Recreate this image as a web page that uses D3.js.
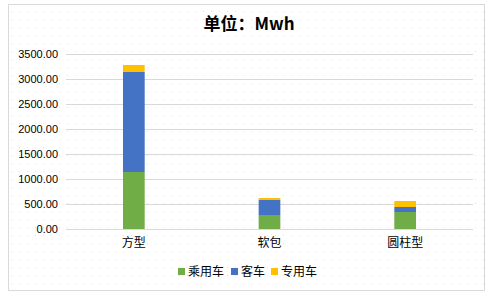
<!DOCTYPE html>
<html>
<head>
<meta charset="utf-8">
<script src="https://cdn.jsdelivr.net/npm/d3@7"></script>
<style>
  body { margin: 0; background: #fff; }
  svg { display: block; font-family: "Noto Sans CJK SC", "DejaVu Sans", sans-serif; }
</style>
</head>
<body>
<svg id="chart" width="491" height="292"></svg>
<script>
var categories = ["方型", "软包", "圆柱型"];
var seriesNames = ["乘用车", "客车", "专用车"];
var passenger = [1140, 280, 340];
var bus = [2000, 300, 100];
var special = [140, 40, 120];
var yTicks = [0, 500, 1000, 1500, 2000, 2500, 3000, 3500];

var colors = ["#70ad47", "#4472c4", "#ffc000"];

var svg = d3.select("#chart");
var margin = {left: 66, right: 18, top: 54, bottom: 63};
var width = 491, height = 292;

// background frame + faint dot pattern
var defs = svg.append("defs");
defs.append("pattern")
    .attr("id", "dots")
    .attr("width", 8).attr("height", 8)
    .attr("patternUnits", "userSpaceOnUse")
    .append("rect")
    .attr("x", 3).attr("y", 3).attr("width", 1).attr("height", 1)
    .attr("fill", "#e4e4dc");

svg.append("rect")
    .attr("x", 8.5).attr("y", 4.5)
    .attr("width", 476).attr("height", 286)
    .attr("fill", "url(#dots)")
    .attr("stroke", "#d9d9d9");

var x = d3.scaleBand()
    .domain(categories)
    .range([margin.left, width - margin.right])
    .paddingInner(0.84)
    .paddingOuter(0.42);

var y = d3.scaleLinear()
    .domain([0, 3500])
    .range([height - margin.bottom, margin.top]);

// gridlines
svg.append("g")
    .selectAll("line")
    .data(yTicks)
    .enter()
    .append("line")
    .attr("x1", margin.left)
    .attr("x2", width - margin.right)
    .attr("y1", function(d){ return Math.round(y(d)) + 0.5; })
    .attr("y2", function(d){ return Math.round(y(d)) + 0.5; })
    .attr("stroke", "#d9d9d9")
    .attr("stroke-width", 1);

// y axis labels
var yAxis = d3.axisLeft(y)
    .tickValues(yTicks)
    .tickSize(0)
    .tickPadding(8)
    .tickFormat(d3.format(".2f"));

var gy = svg.append("g")
    .attr("transform", "translate(" + margin.left + ",0)")
    .call(yAxis);
gy.select(".domain").remove();
gy.selectAll("text")
    .attr("fill", "#000")
    .attr("font-size", 11)
    .attr("font-family", "Liberation Sans, Arial, sans-serif");

// stacked bars
var table = categories.map(function(c, i){
    return {cat: c, "乘用车": passenger[i], "客车": bus[i], "专用车": special[i]};
});
var stack = d3.stack().keys(seriesNames)(table);

svg.append("g")
    .selectAll("g")
    .data(stack)
    .enter()
    .append("g")
    .attr("fill", function(d, i){ return colors[i]; })
    .selectAll("rect")
    .data(function(d){ return d; })
    .enter()
    .append("rect")
    .attr("x", function(d){ return x(d.data.cat); })
    .attr("width", x.bandwidth())
    .attr("y", function(d){ return y(d[1]); })
    .attr("height", function(d){ return y(d[0]) - y(d[1]); });

// x axis labels
var xAxis = d3.axisBottom(x).tickSize(0).tickPadding(9);
var gx = svg.append("g")
    .attr("transform", "translate(0," + (height - margin.bottom) + ")")
    .call(xAxis);
gx.select(".domain").remove();
gx.selectAll("text")
    .attr("fill", "#000")
    .attr("font-size", 12)
    .attr("font-family", "Noto Sans CJK SC, sans-serif");

// title
svg.append("text")
    .attr("x", 249)
    .attr("y", 30)
    .attr("text-anchor", "middle")
    .attr("font-size", 17)
    .attr("font-weight", "bold")
    .attr("fill", "#000")
    .text("单位：Mwh");

// legend
var legendX = [178, 231, 271];
var legend = svg.append("g")
    .selectAll("g")
    .data(seriesNames)
    .enter()
    .append("g")
    .attr("transform", function(d, i){ return "translate(" + legendX[i] + ",268)"; });

legend.append("rect")
    .attr("width", 7).attr("height", 7)
    .attr("fill", function(d, i){ return colors[i]; });

legend.append("text")
    .attr("x", 10)
    .attr("y", 8)
    .attr("font-size", 12)
    .attr("fill", "#000")
    .text(function(d){ return d; });
</script>
</body>
</html>
